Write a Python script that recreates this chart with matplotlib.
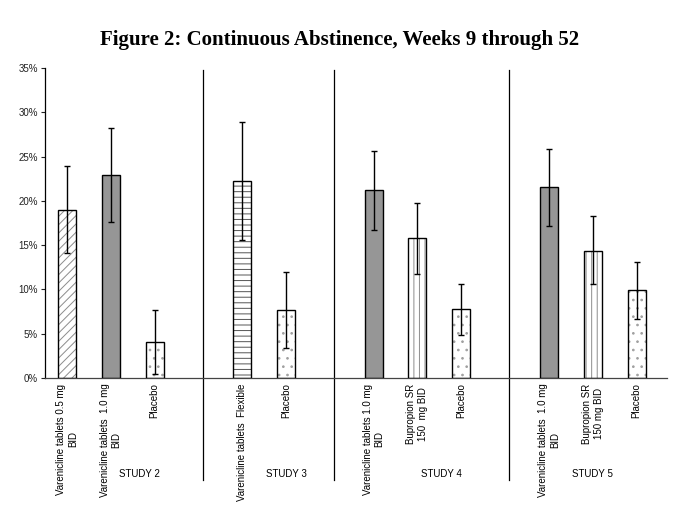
import numpy as np
import matplotlib
matplotlib.use("Agg")
import matplotlib.pyplot as plt
from matplotlib.ticker import FuncFormatter

plt.rcParams['font.family'] = ['Liberation Sans', 'DejaVu Sans']
plt.rcParams['hatch.linewidth'] = 0.7

# donnees (en %)
labels = [
    "Varenicline tablets 0.5 mg\nBID",
    "Varenicline tablets  1.0 mg\nBID",
    "Placebo",
    "Varenicline tablets  Flexible",
    "Placebo",
    "Varenicline tablets 1.0 mg\nBID",
    "Bupropion SR\n150  mg BID",
    "Placebo",
    "Varenicline tablets  1.0 mg\nBID",
    "Bupropion SR\n150 mg BID",
    "Placebo",
]
positions = [0, 1, 2, 4, 5, 7, 8, 9, 11, 12, 13]
means = [19.0, 22.9, 4.1, 22.3, 7.7, 21.2, 15.8, 7.8, 21.6, 14.4, 9.9]
ci_low = [14.1, 17.6, 0.5, 15.6, 3.4, 16.7, 11.8, 4.9, 17.2, 10.6, 6.7]
ci_high = [23.9, 28.2, 7.7, 28.9, 12.0, 25.6, 19.8, 10.6, 25.9, 18.3, 13.1]
kinds = ["diag", "solid", "dots", "hlines", "dots",
         "solid", "vlines", "dots", "solid", "vlines", "dots"]

studies = ["STUDY 2", "STUDY 3", "STUDY 4", "STUDY 5"]
study_x = [1.65, 5, 8.55, 12]
separators = [3.1, 6.1, 10.1]

# style de remplissage par type de barre
styles = {
    "diag":   dict(color="white", hatch="////", hcolor="#8c8c8c"),
    "solid":  dict(color="#969696", hatch=None, hcolor=None),
    "dots":   dict(color="white", hatch="..", hcolor="#a0a0a0"),
    "hlines": dict(color="white", hatch="---", hcolor="#555555"),
    "vlines": dict(color="white", hatch="|||", hcolor="#8c8c8c"),
}

fig = plt.figure(figsize=(6.85, 5.2), dpi=100)
ax = fig.add_axes([0.0657, 0.273, 0.9083, 0.596])

width = 0.41
for x, m, k in zip(positions, means, kinds):
    st = styles[k]
    # remplissage + hachures (couleur propre aux hachures)
    ax.bar(x, m, width=width, color=st["color"], hatch=st["hatch"],
           edgecolor=st["hcolor"] if st["hcolor"] else st["color"],
           linewidth=0, zorder=2)
    # contour noir
    ax.bar(x, m, width=width, fill=False, edgecolor="black",
           linewidth=1.0, zorder=3)

err = np.array([np.array(means) - np.array(ci_low),
                np.array(ci_high) - np.array(means)])
ax.errorbar(positions, means, yerr=err, fmt="none", ecolor="black",
            elinewidth=1.0, capsize=2, capthick=1.0, zorder=4)

for s in separators:
    ax.axvline(s, ymin=-0.33, ymax=0.994, color="black", linewidth=0.9,
               clip_on=False, zorder=1)

for name, x in zip(studies, study_x):
    ax.text(x, -0.31, name, transform=ax.get_xaxis_transform(),
            ha="center", va="center", fontsize=7)

ax.set_xlim(-0.5, 13.7)
ax.set_ylim(0, 35)
ax.set_yticks(np.arange(0, 36, 5))
ax.yaxis.set_major_formatter(FuncFormatter(lambda v, p: "%d%%" % v))
ax.tick_params(axis="y", labelsize=7, length=3, width=0.8, pad=2,
               colors="#222222")
ax.set_xticks(positions)
ax.set_xticklabels(labels, rotation=90, fontsize=7, linespacing=1.25,
                   va="top", ha="center")
ax.tick_params(axis="x", length=0, pad=4)

for side in ["top", "right"]:
    ax.spines[side].set_visible(False)
ax.spines["left"].set_linewidth(0.9)
ax.spines["bottom"].set_linewidth(0.9)
ax.spines["bottom"].set_color("#444444")

fig.text(0.496, 0.923, "Figure 2: Continuous Abstinence, Weeks 9 through 52",
         ha="center", va="center", fontsize=15, fontweight="bold",
         family=["Liberation Serif", "DejaVu Serif"])

fig.savefig("out.png", dpi=100)
plt.close(fig)
